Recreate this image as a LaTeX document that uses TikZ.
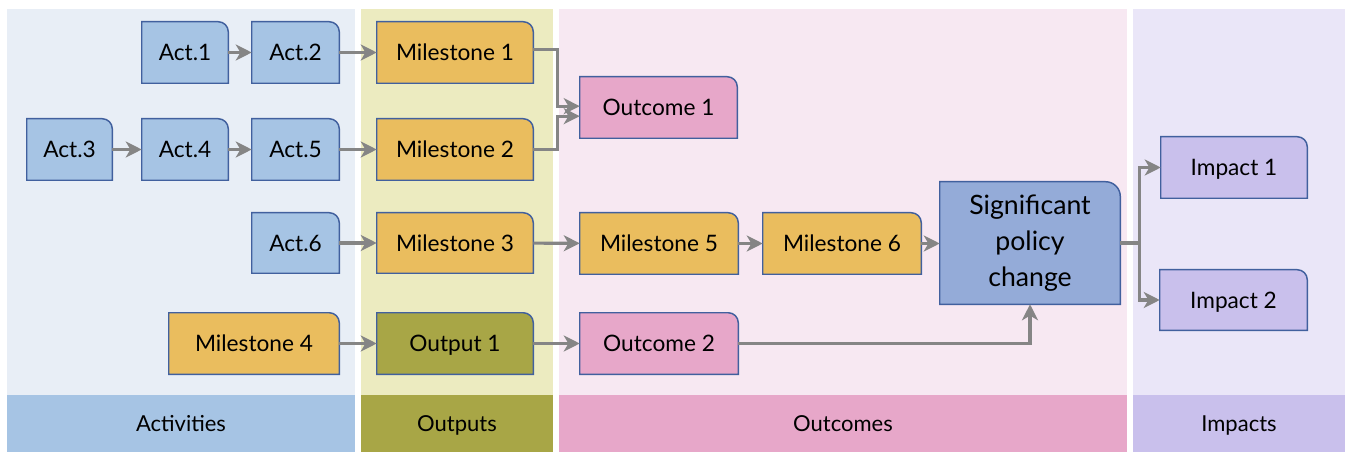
\documentclass[tikz,border=0pt]{standalone}
\usepackage{fontspec}
\setmainfont{Lato}
\usetikzlibrary{arrows.meta}
\pgfdeclarelayer{bg}
\pgfdeclarelayer{boxes}
\pgfsetlayers{bg,boxes,main}
\definecolor{actbg}{HTML}{E8EEF6}
\definecolor{acthd}{HTML}{A6C4E4}
\definecolor{outbg}{HTML}{ECEBC0}
\definecolor{outhd}{HTML}{A8A646}
\definecolor{ocbg}{HTML}{F7E8F2}
\definecolor{ochd}{HTML}{E7A7C9}
\definecolor{impbg}{HTML}{EAE6F8}
\definecolor{imphd}{HTML}{C9C0EC}
\definecolor{bordercol}{HTML}{41609E}
\definecolor{actfill}{HTML}{A6C4E4}
\definecolor{msfill}{HTML}{EABD5E}
\definecolor{ocfill}{HTML}{E7A7C9}
\definecolor{polfill}{HTML}{94ABD8}
\definecolor{impfill}{HTML}{C9C0EC}
\definecolor{o1fill}{HTML}{A8A646}
\definecolor{arrgray}{HTML}{858585}
\tikzset{
  txt/.style={inner sep=1pt, align=center, font=\fontsize{17}{20}\selectfont, text=black, text height=14pt, text depth=1.5pt},
  poltxt/.style={font=\fontsize{20}{27}\selectfont, rad=11pt, text height={}, text depth={}},
  rad/.code={\gdef\boxrad{#1}},
  hdr/.style={inner sep=0pt, font=\fontsize{16.5}{19}\selectfont, text=black, text height=13.5pt, text depth=1.5pt},
  arr/.style={draw=arrgray, line width=2.3pt, -{Stealth[length=12pt,width=12pt,inset=3.5pt]}},
  boxline/.style={draw=bordercol, line width=1.1pt},
}
% #1 extra node style, #2 name, #3 x1, #4 y1, #5 x2, #6 y2, #7 fill, #8 text
\newcommand{\mkbox}[8][]{%
  \gdef\boxrad{7.5pt}%
  \node[txt, minimum width={(#5-#3)*0.75pt}, minimum height={(#6-#4)*0.75pt}, #1] (#2) at ({(#3+#5)/2},{(#4+#6)/2}) {#8};
  \begin{pgfonlayer}{boxes}
    \filldraw[boxline, fill=#7] (#2.south west) -- (#2.north west) -- ([xshift=-\boxrad]#2.north east) arc[start angle=90, end angle=0, radius=\boxrad] -- (#2.south east) -- cycle;
  \end{pgfonlayer}}
% #1 x1, #2 x2, #3 light, #4 header, #5 name, #6 text
\newcommand{\mkcol}[6]{%
  \begin{pgfonlayer}{bg}
    \fill[#3] (#1,9) rectangle (#2,395);
  \end{pgfonlayer}
  \node[hdr, fill=#4, minimum width={(#2-#1)*0.75pt}, minimum height={57*0.75pt}] (#5) at ({(#1+#2)/2},423.5) {#6};}
\begin{document}
\begin{tikzpicture}[x=0.75pt, y=-0.75pt]
\useasboundingbox (0,0) rectangle (1345,452);
\mkcol{7}{355}{actbg}{acthd}{hact}{Activities}
\mkcol{361}{553}{outbg}{outhd}{hout}{Outputs}
\mkcol{559}{1127}{ocbg}{ochd}{hoc}{Outcomes}
\mkcol{1133}{1345}{impbg}{imphd}{himp}{Impacts}

\mkbox{a1}{142}{22}{228}{83}{actfill}{Act.1}
\mkbox{a2}{252}{22}{339}{83}{actfill}{Act.2}
\mkbox{m1}{377}{22}{533}{83}{msfill}{Milestone 1}
\mkbox{oc1}{580}{77}{737}{138}{ocfill}{Outcome 1}
\mkbox{a3}{27}{119}{112}{180}{actfill}{Act.3}
\mkbox{a4}{142}{119}{228}{180}{actfill}{Act.4}
\mkbox{a5}{252}{119}{339}{180}{actfill}{Act.5}
\mkbox{m2}{377}{119}{533}{180}{msfill}{Milestone 2}
\mkbox{a6}{252}{213}{339}{273}{actfill}{Act.6}
\mkbox{m3}{377}{213}{533}{273}{msfill}{Milestone 3}
\mkbox{m5}{580}{213}{738}{274}{msfill}{Milestone 5}
\mkbox{m6}{763}{213}{921}{274}{msfill}{Milestone 6}
\mkbox[poltxt]{pol}{940}{182}{1120}{304}{polfill}{Significant\\ policy\\ change}
\mkbox{i1}{1161}{137}{1307}{198}{impfill}{Impact 1}
\mkbox{i2}{1160}{270}{1307}{330}{impfill}{Impact 2}
\mkbox{m4}{169}{313}{339}{374}{msfill}{Milestone 4}
\mkbox{out1}{377}{313}{533}{374}{o1fill}{Output 1}
\mkbox{oc2}{580}{313}{738}{374}{ocfill}{Outcome 2}

\draw[arr] (a1) -- (a2);
\draw[arr] (a2) -- (m1);
\draw[arr] (a3) -- (a4);
\draw[arr] (a4) -- (a5);
\draw[arr] (a5) -- (m2);
\draw[arr] (a6) -- (m3);
\draw[arr] (m3) -- (m5);
\draw[arr] (m5) -- (m6);
\draw[arr] (m6.east) -- (pol.west |- m6.east);
\draw[arr] (m4) -- (out1);
\draw[arr] (out1) -- (oc2);
\draw[arr] ([yshift=2pt]m1.east) -| ([xshift=-17pt,yshift=1pt]oc1.west) -- ([yshift=1pt]oc1.west);
\draw[arr] (m2.east) -| ([xshift=-17pt,yshift=-6.5pt]oc1.west) -- ([yshift=-6.5pt]oc1.west);
\draw[arr] (oc2.east) -| (pol.south);
\draw[arr] (pol.east) -| ([xshift=-16pt]i1.west) -- (i1.west);
\draw[arr] (pol.east) -| ([xshift=-15pt]i2.west) -- (i2.west);
\end{tikzpicture}
\end{document}
